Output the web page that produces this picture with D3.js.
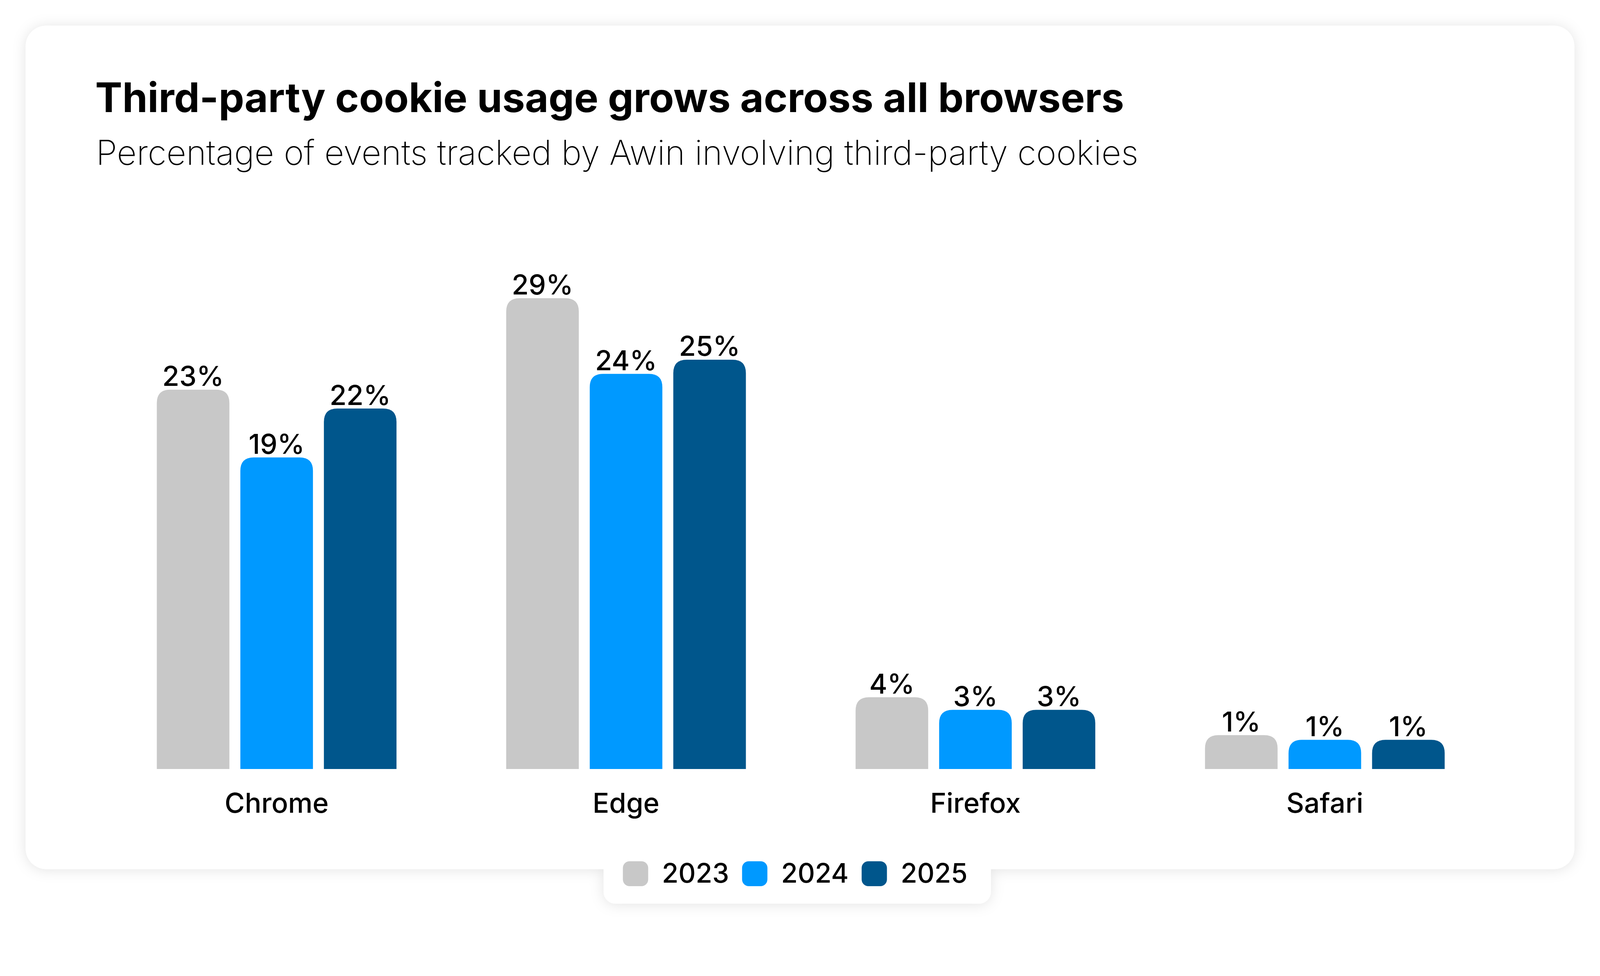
<!DOCTYPE html>
<html lang="en">
<head>
<meta charset="utf-8">
<title>Third-party cookie usage</title>
<script src="https://d3js.org/d3.v7.min.js"></script>
<style>
  html, body { margin: 0; padding: 0; background: #fff; overflow: hidden; }
  svg { display: block; width: 100vw; height: 100vh; }
  text { font-family: Inter, "Noto Sans", sans-serif; fill: #000; }
  .title { font-size: 109px; font-weight: 700; }
  .subtitle { font-size: 92px; font-weight: 200; }
  .val { font-size: 74px; font-weight: 500; }
  .cat { font-size: 74px; font-weight: 500; }
  .leg { font-size: 72px; font-weight: 500; }
</style>
</head>
<body>
<svg viewBox="0 0 4300 2499" preserveAspectRatio="xMinYMin meet"></svg>
<script>
// data
const browsers = ["Chrome", "Edge", "Firefox", "Safari"];
const years = ["2023", "2024", "2025"];
const share2023 = [23.2, 29.0, 3.7, 1.3];
const share2024 = [18.9, 24.2, 2.9, 1.0];
const share2025 = [22.0, 25.1, 2.9, 1.0];
const yearColors = ["#c8c8c8", "#0099ff", "#00568c"];

const series = [share2023, share2024, share2025];
const rows = browsers.map((b, i) => ({
  browser: b,
  values: years.map((y, j) => ({ year: y, value: series[j][i] }))
}));

const svg = d3.select("svg");

// card + legend tab, with a soft shadow
const defs = svg.append("defs");
const f = defs.append("filter").attr("id", "shadow")
  .attr("x", "-10%").attr("y", "-10%").attr("width", "120%").attr("height", "120%");
f.append("feDropShadow").attr("dx", 0).attr("dy", 2)
  .attr("stdDeviation", 18).attr("flood-color", "#000").attr("flood-opacity", 0.11);

const bg = svg.append("g").attr("filter", "url(#shadow)");
bg.append("rect").attr("x", 69).attr("y", 69).attr("width", 4231 - 69).attr("height", 2336 - 69)
  .attr("rx", 55).attr("fill", "#fff");
bg.append("rect").attr("x", 1622).attr("y", 2200).attr("width", 2663 - 1622).attr("height", 2429 - 2200)
  .attr("rx", 32).attr("fill", "#fff");

// titles
svg.append("text").attr("class", "title").attr("x", 256).attr("y", 301)
  .text("Third-party cookie usage grows across all browsers");
svg.append("text").attr("class", "subtitle").attr("x", 258).attr("y", 443)
  .text("Percentage of events tracked by Awin involving third-party cookies");

// scales
const baseY = 2067;
const r = 36; // rounded top sits above the value line
const x0 = d3.scaleBand().domain(browsers).range([274, 4030]).paddingInner(0.314).paddingOuter(0.157);
const x1 = d3.scaleBand().domain(years).range([0, x0.bandwidth()]).paddingInner(0.131);
const y = d3.scaleLinear().domain([0, 29]).range([baseY, baseY - 29 * 42.4]);
const color = d3.scaleOrdinal().domain(years).range(yearColors);

function barPath(x, w, top, bottom) {
  const rr = Math.min(r, w / 2, bottom - top);
  return `M${x},${bottom}V${top + rr}Q${x},${top} ${x + rr},${top}H${x + w - rr}Q${x + w},${top} ${x + w},${top + rr}V${bottom}Z`;
}

const groups = svg.append("g").selectAll("g")
  .data(rows).join("g")
  .attr("transform", d => `translate(${x0(d.browser)},0)`);

groups.selectAll("path")
  .data(d => d.values).join("path")
  .attr("d", d => barPath(x1(d.year), x1.bandwidth(), y(d.value) - r, baseY))
  .attr("fill", d => color(d.year));

groups.selectAll("text.val")
  .data(d => d.values).join("text")
  .attr("class", "val")
  .attr("x", d => x1(d.year) + x1.bandwidth() / 2)
  .attr("y", d => y(d.value) - r - 10)
  .attr("text-anchor", "middle")
  .text(d => Math.round(d.value) + "%");

// category axis (labels only)
const xAxis = svg.append("g").attr("transform", `translate(0,${baseY})`)
  .call(d3.axisBottom(x0).tickSize(0).tickPadding(118));
xAxis.select(".domain").remove();
xAxis.selectAll("text").attr("class", "cat").attr("font-size", null).attr("font-family", null)
  .attr("dy", 0).attr("fill", "#000");

// legend
const leg = svg.append("g");
let lx = 1674;
years.forEach(yr => {
  leg.append("rect").attr("x", lx).attr("y", 2315).attr("width", 68).attr("height", 67)
    .attr("rx", 18).attr("fill", color(yr));
  const t = leg.append("text").attr("class", "leg").attr("x", lx + 68 + 37).attr("y", 2373).text(yr);
  lx += 68 + 37 + t.node().getComputedTextLength() + 35;
});
</script>
</body>
</html>
